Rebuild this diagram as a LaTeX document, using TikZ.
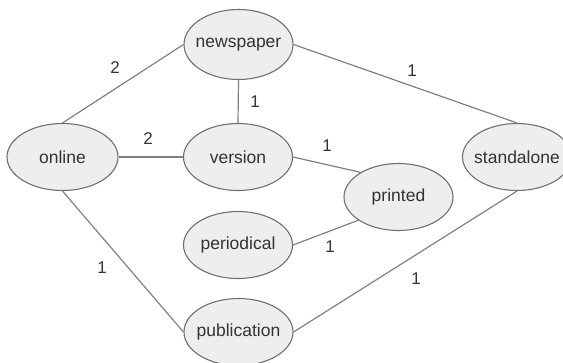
\documentclass[tikz,border=0pt]{standalone}
\usepackage{fontspec}
\setmainfont{Liberation Sans}
\usetikzlibrary{shapes.geometric}
\definecolor{nodefill}{HTML}{EEEEEE}
\definecolor{nodeline}{HTML}{707070}
\definecolor{edgeline}{HTML}{808080}
\definecolor{inktext}{HTML}{333333}
\tikzset{
  entity/.style={ellipse, draw=nodeline, fill=nodefill, line width=1.1pt,
    minimum width=109pt, minimum height=67pt, inner sep=0pt,
    text=inktext, font=\fontsize{17.5}{20}\selectfont},
  link/.style={draw=edgeline, line width=1.2pt},
  weight/.style={text=inktext, font=\fontsize{17}{20}\selectfont, inner sep=0pt}
}
\newcommand{\entitytext}[1]{\makebox[0pt]{#1}}
\begin{document}
\begin{tikzpicture}[x=1pt, y=-1pt]
  \useasboundingbox (0,0) rectangle (563,362);

  % entities
  \node[entity, minimum height=70pt] (newspaper)   at (238.5, 44.5) {\entitytext{newspaper}};
  \node[entity, minimum width=111pt] (online)      at (62.5, 157)   {\entitytext{online}};
  \node[entity] (version)     at (238, 157)   {\entitytext{version}};
  \node[entity] (standalone)  at (517, 157)   {\entitytext{standalone}};
  \node[entity] (printed)     at (398.5, 197) {\entitytext{printed}};
  \node[entity] (periodical)  at (238, 245)   {\entitytext{periodical}};
  \node[entity] (publication) at (238.5, 332) {\entitytext{publication}};

  % relations
  \draw[link] (online.north) -- (newspaper.west);
  \draw[link] (newspaper.south) -- (version.north);
  \draw[link] (newspaper.east) -- (standalone.north);
  \draw[link] (online.east) -- (version.west);
  \draw[link] (version.east) -- (printed.147);
  \draw[link] (periodical.east) -- (printed.210);
  \draw[link] (online.south) -- (publication.west);
  \draw[link] (publication.east) -- (standalone.south);

  % multiplicities
  \node[weight] (w1) at (115, 68)  {2};
  \node[weight] (w2) at (255, 102) {1};
  \node[weight] (w3) at (412, 71)  {1};
  \node[weight] (w4) at (148, 139) {2};
  \node[weight] (w5) at (327, 146) {1};
  \node[weight] (w6) at (330, 247) {1};
  \node[weight] (w7) at (102, 268) {1};
  \node[weight] (w8) at (416, 279) {1};
\end{tikzpicture}
\end{document}
